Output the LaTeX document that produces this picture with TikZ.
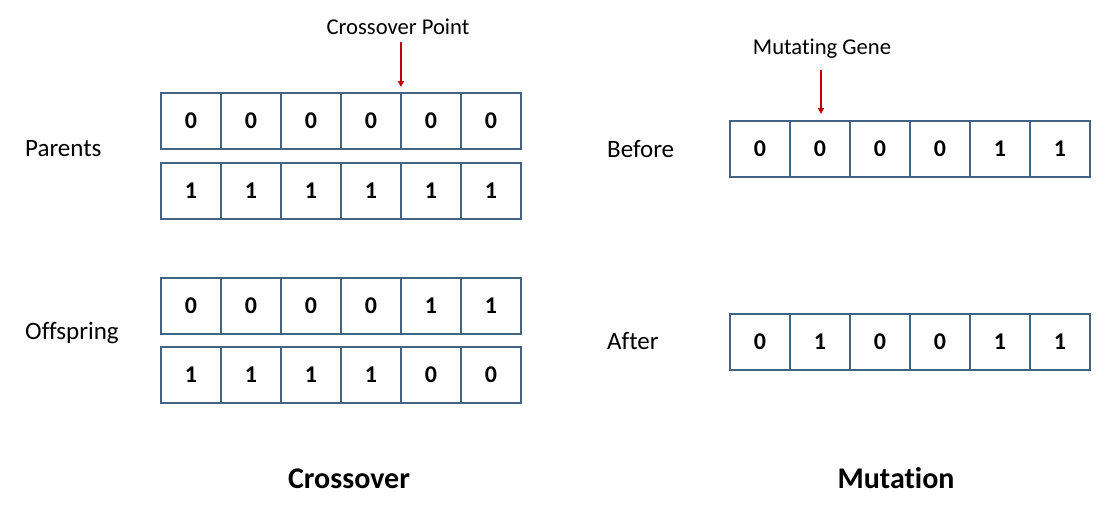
\documentclass[tikz,border=0pt]{standalone}
\usepackage{fontspec}
\setmainfont{Carlito}[Ligatures=CommonOff]
\usetikzlibrary{arrows.meta}
\definecolor{boxblue}{RGB}{68,98,130}
\definecolor{arrowred}{RGB}{192,0,0}
\tikzset{
  cell/.style={draw=boxblue, line width=2pt, minimum width=60pt, minimum height=56pt, inner sep=0pt, font=\fontsize{24}{28}\selectfont\bfseries},
  lbl/.style={anchor=west, inner sep=0pt, font=\fontsize{25}{30}\selectfont},
  caption/.style={inner sep=0pt, font=\fontsize{22.6}{26}\selectfont},
  title/.style={inner sep=0pt, font=\fontsize{30}{36}\selectfont\bfseries},
  redarrow/.style={draw=arrowred, line width=1.6pt, -{Triangle[length=6pt,width=6pt]}}
}
\begin{document}
\begin{tikzpicture}[x=1pt,y=-1pt]
\useasboundingbox[fill=white] (0,0) rectangle (1119,507);
% crossover rows
\foreach \name/\y/\vals in {pa/120.5/{0,0,0,0,0,0}, pb/190.5/{1,1,1,1,1,1}, oa/306/{0,0,0,0,1,1}, ob/375/{1,1,1,1,0,0}}{
  \foreach \v [count=\i] in \vals {
    \node[cell] (\name-\i) at ({161+60*\i-30},\y) {\v};
  }
}
% mutation rows
\foreach \name/\y/\vals in {bf/148.5/{0,0,0,0,1,1}, af/341.5/{0,1,0,0,1,1}}{
  \foreach \v [count=\i] in \vals {
    \node[cell] (\name-\i) at ({730+60*\i-30},\y) {\v};
  }
}
% labels
\node[lbl] (parents) at (25,149) {Parents};
\node[lbl] (offspring) at (25,333) {Offspring};
\node[lbl] (before) at (607,149) {Before};
\node[lbl] (after) at (607,341) {After};
% captions and arrows
\node[caption] (cp) at (398,27) {Crossover Point};
\coordinate (cpa) at (401,42);
\coordinate (cpb) at (401,87);
\draw[redarrow] (cpa) -- (cpb);
\node[caption] (mg) at (822,49) {Mutating Gene};
\coordinate (mga) at (821,70);
\coordinate (mgb) at (821,114);
\draw[redarrow] (mga) -- (mgb);
% titles
\node[title] (t1) at (349,479) {Crossover};
\node[title] (t2) at (896,478) {Mutation};
\end{tikzpicture}
\end{document}
